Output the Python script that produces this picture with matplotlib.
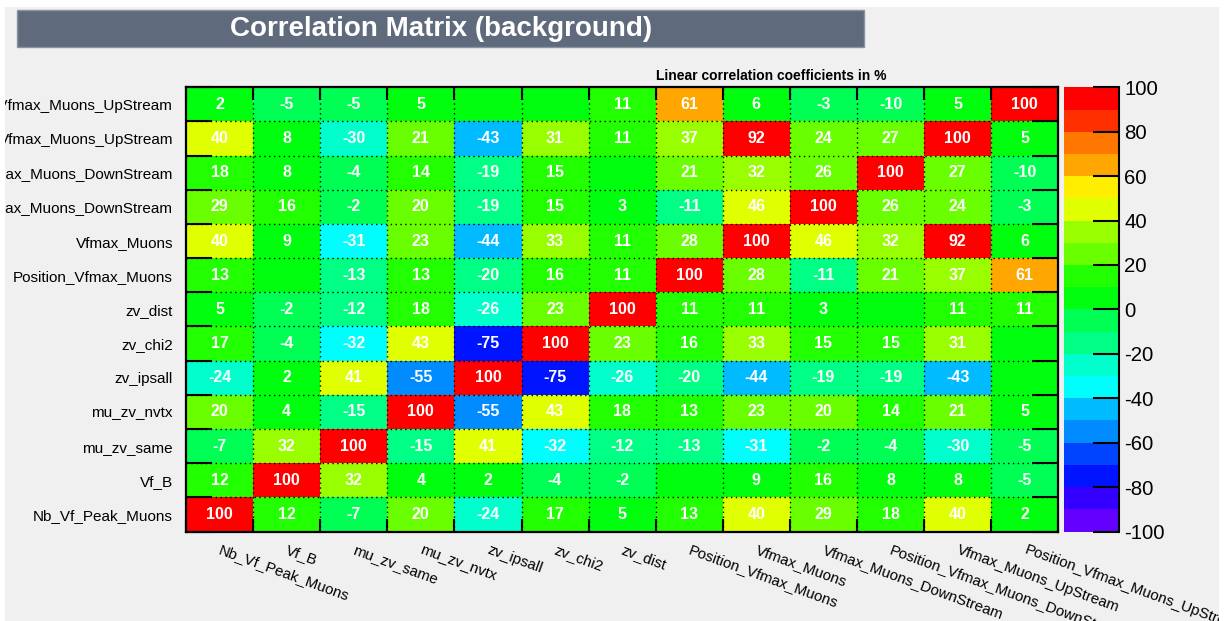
# -*- coding: utf-8 -*-
"""
Matriz de correlación lineal (fondo) entre las variables de entrada del MVA,
dibujada al estilo de TMVA (paleta "pretty" de ROOT, 20 contornos, texto en %).
Salida: out.png
"""
import colorsys
import numpy as np
import matplotlib
matplotlib.use("Agg")
import matplotlib.pyplot as plt
from matplotlib.colors import ListedColormap, BoundaryNorm
from matplotlib.patches import Rectangle
from matplotlib.transforms import Bbox, TransformedBbox

plt.rcParams["font.family"] = ["Liberation Sans", "DejaVu Sans"]
plt.rcParams["axes.unicode_minus"] = False

VARIABLES = [
    "Nb_Vf_Peak_Muons", "Vf_B", "mu_zv_same", "mu_zv_nvtx", "zv_ipsall",
    "zv_chi2", "zv_dist", "Position_Vfmax_Muons", "Vfmax_Muons",
    "Vfmax_Muons_DownStream", "Position_Vfmax_Muons_DownStream",
    "Vfmax_Muons_UpStream", "Position_Vfmax_Muons_UpStream",
]

# coeficientes en %, una fila por variable (mismo orden que las columnas)
ROW_NB_VF_PEAK_MUONS = [100, 12, -7, 20, -24, 17, 5, 13, 40, 29, 18, 40, 2]
ROW_VF_B = [12, 100, 32, 4, 2, -4, -2, 0, 9, 16, 8, 8, -5]
ROW_MU_ZV_SAME = [-7, 32, 100, -15, 41, -32, -12, -13, -31, -2, -4, -30, -5]
ROW_MU_ZV_NVTX = [20, 4, -15, 100, -55, 43, 18, 13, 23, 20, 14, 21, 5]
ROW_ZV_IPSALL = [-24, 2, 41, -55, 100, -75, -26, -20, -44, -19, -19, -43, 0]
ROW_ZV_CHI2 = [17, -4, -32, 43, -75, 100, 23, 16, 33, 15, 15, 31, 0]
ROW_ZV_DIST = [5, -2, -12, 18, -26, 23, 100, 11, 11, 3, 0, 11, 11]
ROW_POS_VFMAX = [13, 0, -13, 13, -20, 16, 11, 100, 28, -11, 21, 37, 61]
ROW_VFMAX = [40, 9, -31, 23, -44, 33, 11, 28, 100, 46, 32, 92, 6]
ROW_VFMAX_DOWN = [29, 16, -2, 20, -19, 15, 3, -11, 46, 100, 26, 24, -3]
ROW_POS_VFMAX_DOWN = [18, 8, -4, 14, -19, 15, 0, 21, 32, 26, 100, 27, -10]
ROW_VFMAX_UP = [40, 8, -30, 21, -43, 31, 11, 37, 92, 24, 27, 100, 5]
ROW_POS_VFMAX_UP = [2, -5, -5, 5, 0, 0, 11, 61, 6, -3, -10, 5, 100]

W, H = 1225.0, 621.0


def root_pretty_palette(ncont=20, npretty=50):
    """Paleta 'pretty' de ROOT (HLS, violeta->rojo) muestreada como THistPainter."""
    cols = []
    for j in range(ncont):
        i = int((j + 0.99) * npretty / ncont)
        hue = 280.0 - (i + 1) * 280.0 / npretty
        cols.append(colorsys.hls_to_rgb(hue / 360.0, 0.5, 1.0))
    cmap = ListedColormap(cols)
    cmap.set_over(cols[-1])
    cmap.set_under(cols[0])
    return cmap


def main():
    corr = np.array([
        ROW_NB_VF_PEAK_MUONS, ROW_VF_B, ROW_MU_ZV_SAME, ROW_MU_ZV_NVTX,
        ROW_ZV_IPSALL, ROW_ZV_CHI2, ROW_ZV_DIST, ROW_POS_VFMAX, ROW_VFMAX,
        ROW_VFMAX_DOWN, ROW_POS_VFMAX_DOWN, ROW_VFMAX_UP, ROW_POS_VFMAX_UP,
    ])
    n = len(VARIABLES)
    levels = np.arange(-100, 101, 10)
    cmap = root_pretty_palette()
    norm = BoundaryNorm(levels, cmap.N)

    fig = plt.figure(figsize=(W / 100, H / 100), dpi=100, facecolor="white")
    # fondo gris del canvas; las etiquetas se recortan a este recuadro
    canvas_box = (5 / W, 0, (1219 - 5) / W, 1 - 7 / H)
    fig.patches.append(Rectangle(canvas_box[:2], canvas_box[2], canvas_box[3],
                                 transform=fig.transFigure, facecolor="#f0f0f0",
                                 edgecolor="none", zorder=-10))
    clip = TransformedBbox(Bbox.from_bounds(*canvas_box), fig.transFigure)

    # caja del título
    fig.patches.append(Rectangle((17 / W, 1 - 47 / H), 847 / W, 37 / H,
                                 transform=fig.transFigure, facecolor="#5f6b7d",
                                 edgecolor="#8894a4", lw=1, zorder=1))
    fig.text(441 / W, 1 - 28.5 / H, "Correlation Matrix (background)", color="white",
             fontsize=20, fontweight="bold", ha="center", va="center", zorder=2)
    fig.text(771 / W, 1 - 76 / H, "Linear correlation coefficients in %",
             fontsize=10, fontweight="bold", ha="center", va="center")

    bottom = 1 - 531.5 / H
    height = 444.2 / H
    ax = fig.add_axes([186 / W, bottom, 872.3 / W, height])
    edges = np.arange(n + 1)
    mesh = ax.pcolormesh(edges, edges, corr, cmap=cmap, norm=norm)

    for r in range(n):
        for c in range(n):
            v = int(corr[r, c])
            if v != 0:
                ax.text(c + 0.5, r + 0.5, f"{v:d}", ha="center", va="center",
                        color="white", fontsize=11.5, fontweight="bold")

    # rejilla punteada en los bordes de bin
    for k in range(1, n):
        ax.axhline(k, color="black", lw=1, ls=(0, (1, 2.5)))
        ax.axvline(k, color="black", lw=1, ls=(0, (1, 2.5)))

    ax.set_xlim(0, n)
    ax.set_ylim(0, n)
    centers = edges[:-1] + 0.5
    ax.set_xticks(centers)
    ax.set_yticks(centers)
    ax.set_xticks(edges, minor=True)
    ax.set_yticks(edges, minor=True)
    ax.set_xticklabels(VARIABLES, rotation=-20, ha="left", va="center",
                       rotation_mode="anchor", fontsize=10.8)
    ax.set_yticklabels(VARIABLES, fontsize=11)
    ax.tick_params(axis="x", which="major", length=0, pad=12.6)
    ax.tick_params(axis="y", which="major", length=0, pad=9.4)
    ax.tick_params(axis="x", which="minor", direction="in", length=9.4, width=1.5,
                   top=True, bottom=True)
    ax.tick_params(axis="y", which="minor", direction="in", length=18.7, width=1.5,
                   left=True, right=True)
    for sp in ax.spines.values():
        sp.set_linewidth(1.6)
    for lab in ax.get_xticklabels() + ax.get_yticklabels():
        lab.set_clip_box(clip)
        lab.set_clip_on(True)

    # barra de color (paleta)
    cax = fig.add_axes([1064 / W, bottom, 54.5 / W, height])
    cb = fig.colorbar(mesh, cax=cax, ticks=np.arange(-100, 101, 20))
    cb.outline.set_visible(False)
    cax.tick_params(direction="in", length=18.7, width=1.5, labelsize=14.7, pad=4)
    cax.minorticks_off()
    cax.plot([1, 1], [0, 1], transform=cax.transAxes, color="black", lw=1.5,
             clip_on=False)

    fig.savefig("out.png", dpi=100, facecolor=fig.get_facecolor())
    plt.close(fig)


if __name__ == "__main__":
    main()
